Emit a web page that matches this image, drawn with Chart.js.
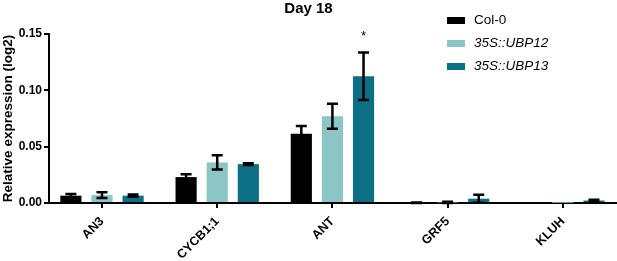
<!DOCTYPE html>
<html>
<head>
<meta charset="utf-8">
<script src="https://cdn.jsdelivr.net/npm/chart.js@4.4.1/dist/chart.umd.min.js"></script>
<style>
  html, body { margin: 0; padding: 0; background: #fff; overflow: hidden; }
  #wrap { width: 617px; height: 261px; position: relative; }
</style>
</head>
<body>
<div id="wrap"><canvas id="chart"></canvas></div>
<script>
// --- Data ---
const categories = ['AN3', 'CYCB1;1', 'ANT', 'GRF5', 'KLUH'];
const seriesNames = ['Col-0', '35S::UBP12', '35S::UBP13'];
const col0 = [0.0065, 0.023, 0.0615, 0.0002, 0.0001];
const col0Err = [0.0015, 0.0025, 0.0068, 0.0002, 0];
const ubp12 = [0.007, 0.036, 0.077, 0.0005, 0.0002];
const ubp12Err = [0.0025, 0.0063, 0.011, 0.0005, 0];
const ubp13 = [0.0065, 0.0345, 0.1125, 0.0038, 0.0022];
const ubp13Err = [0.001, 0.0008, 0.021, 0.0035, 0.0006];
const yTicks = [0, 0.05, 0.10, 0.15];
const significant = [{ dataset: 2, index: 2, mark: '*' }];

const FONT = '"Liberation Sans", Arial, Helvetica, sans-serif';

// turn a list of values into {x, y} points on the numeric category axis
function points(values) {
    return values.map(function (v, i) { return { x: i, y: v }; });
}

// Error bars (mean +/- err) drawn on top of the bars
const errorBars = {
    id: 'errorBars',
    afterDatasetsDraw: function (chart) {
        const ctx = chart.ctx;
        const y = chart.scales.y;
        ctx.save();
        ctx.strokeStyle = '#000';
        ctx.lineWidth = 2.5;
        chart.data.datasets.forEach(function (ds, di) {
            const meta = chart.getDatasetMeta(di);
            meta.data.forEach(function (bar, i) {
                const v = ds.data[i].y;
                const e = ds.errors[i];
                if (!e) return;
                const top = y.getPixelForValue(v + e);
                const bot = y.getPixelForValue(Math.max(0, v - e));
                const half = 5.5;
                ctx.beginPath();
                ctx.moveTo(bar.x, top);
                ctx.lineTo(bar.x, bot);
                ctx.moveTo(bar.x - half, top);
                ctx.lineTo(bar.x + half, top);
                ctx.moveTo(bar.x - half, bot);
                ctx.lineTo(bar.x + half, bot);
                ctx.stroke();
            });
        });
        // significance marks
        ctx.fillStyle = '#000';
        ctx.font = '13px ' + FONT;
        ctx.textAlign = 'center';
        ctx.textBaseline = 'alphabetic';
        significant.forEach(function (s) {
            const ds = chart.data.datasets[s.dataset];
            const bar = chart.getDatasetMeta(s.dataset).data[s.index];
            const top = y.getPixelForValue(ds.data[s.index].y + ds.errors[s.index]);
            ctx.fillText(s.mark, bar.x, top - 13);
        });
        ctx.restore();
    }
};

// Legend in the upper right of the plot, like the original
const boxLegend = {
    id: 'boxLegend',
    afterDraw: function (chart) {
        const ctx = chart.ctx;
        ctx.save();
        ctx.textAlign = 'left';
        ctx.textBaseline = 'middle';
        chart.data.datasets.forEach(function (ds, i) {
            const cy = 20.5 + i * 23;
            ctx.fillStyle = ds.backgroundColor;
            ctx.fillRect(447, cy - 3.5, 18, 7);
            ctx.fillStyle = '#000';
            ctx.font = (i > 0 ? 'italic ' : '') + '13.5px ' + FONT;
            ctx.fillText(ds.label, 474, cy);
        });
        ctx.restore();
    }
};

const data = {
    datasets: [
        { label: seriesNames[0], data: points(col0), errors: col0Err, backgroundColor: '#000000' },
        { label: seriesNames[1], data: points(ubp12), errors: ubp12Err, backgroundColor: '#8bc5c5' },
        { label: seriesNames[2], data: points(ubp13), errors: ubp13Err, backgroundColor: '#0c6f86' }
    ]
};

const config = {
    type: 'bar',
    data: data,
    options: {
        responsive: true,
        maintainAspectRatio: false,
        animation: false,
        categoryPercentage: 0.81,
        barPercentage: 0.68,
        layout: { padding: { left: 0, right: 0, top: 0, bottom: 0 } },
        scales: {
            x: {
                type: 'linear',
                min: -0.46,
                max: 4.47,
                offset: false,
                border: { color: '#000', width: 2 },
                grid: { display: true, drawOnChartArea: false, drawTicks: true, tickLength: 5, color: '#000', lineWidth: 2, offset: false },
                ticks: {
                    stepSize: 1,
                    includeBounds: false,
                    autoSkip: false,
                    minRotation: 45,
                    maxRotation: 45,
                    padding: 6,
                    color: '#000',
                    font: { family: FONT, size: 12.5, weight: 'bold' },
                    callback: function (value) {
                        return categories[value] !== undefined ? categories[value] : '';
                    }
                },
                afterFit: function (scale) { scale.height = 58; }
            },
            y: {
                min: 0,
                max: 0.15,
                border: { color: '#000', width: 2 },
                grid: { display: true, drawOnChartArea: false, drawTicks: true, tickLength: 5, color: '#000', lineWidth: 2 },
                afterBuildTicks: function (scale) {
                    scale.ticks = yTicks.map(function (v) { return { value: v }; });
                },
                ticks: {
                    padding: 2,
                    color: '#000',
                    font: { family: FONT, size: 12, weight: 'bold' },
                    callback: function (value) { return value.toFixed(2); }
                },
                title: {
                    display: true,
                    text: 'Relative expression (log2)',
                    color: '#000',
                    padding: { top: 0, bottom: 0 },
                    font: { family: FONT, size: 13.5, weight: 'bold' }
                },
                afterFit: function (scale) { scale.width = 49; }
            }
        },
        plugins: {
            legend: { display: false },
            tooltip: { enabled: false },
            title: {
                display: true,
                text: 'Day 18',
                color: '#000',
                padding: { top: 0, bottom: 16 },
                font: { family: FONT, size: 15, weight: 'bold', lineHeight: 1.2 }
            }
        }
    },
    plugins: [errorBars, boxLegend]
};

new Chart(document.getElementById('chart'), config);
</script>
</body>
</html>
